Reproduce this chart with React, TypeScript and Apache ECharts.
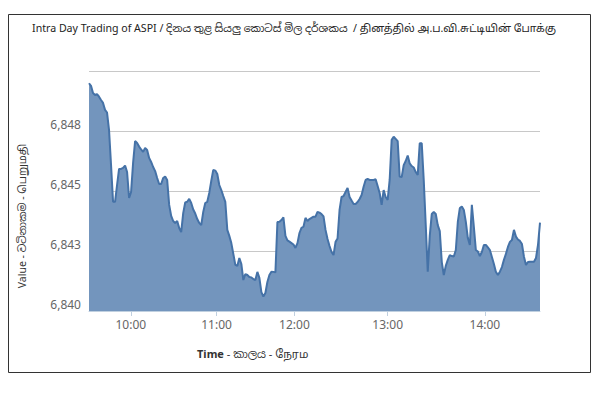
import React, { useEffect, useRef } from "react";
import * as echarts from "echarts";

const titleText =
  "Intra Day Trading of ASPI / දිනය තුළ සියලු කොටස් මිල දර්ශකය  / தினத்தில் அ.ப.வி.சுட்டியின் போக்கு";
const yTitle = "Value - වටිනාකම - பெறுமதி";
const xTitleBold = "Time";
const xTitleRest = " - කාලය - நேரம";

// tick labels of the ordinal time axis and the point index where each falls
const tickLabels = ["10:00", "11:00", "12:00", "13:00", "14:00"];
const tickPos = [20.85, 63.65, 102.5, 149, 197.5];

// ASPI intraday values (equally spaced ordinal points)
const part1 = [
  6849.49, 6849.38, 6849.08, 6849.0, 6849.04, 6848.93, 6848.79, 6848.67, 6848.38, 6848.27,
  6847.54, 6846.08, 6844.55, 6844.55, 6845.25, 6845.92, 6845.92, 6845.96, 6846.06, 6845.79,
  6844.71, 6844.96, 6846.17, 6847.08, 6847.0, 6846.85, 6846.73, 6846.63, 6846.79, 6846.71,
  6846.38, 6846.21, 6846.0, 6845.83, 6845.54, 6845.29, 6845.29, 6845.54, 6845.6, 6845.46,
  6844.42, 6843.96, 6843.75, 6843.67, 6843.75, 6843.46, 6843.29, 6844.08, 6844.52, 6844.55,
  6844.67, 6844.5, 6844.23, 6844.06, 6843.83, 6843.67, 6843.58, 6844.13, 6844.5, 6844.55,
];
const part2 = [
  6844.92, 6845.42, 6845.88, 6845.85, 6845.71, 6845.25, 6845.04, 6844.79, 6844.55, 6843.38,
  6843.13, 6842.83, 6842.38, 6841.92, 6841.88, 6842.21, 6841.96, 6841.29, 6841.54, 6841.5,
  6841.42, 6841.4, 6841.33, 6841.29, 6841.63, 6841.38, 6840.79, 6840.6, 6840.75, 6841.21,
  6841.5, 6841.64, 6841.63, 6841.61, 6843.71, 6843.72, 6843.79, 6843.9, 6843.13, 6842.94,
  6842.89, 6842.83, 6842.77, 6842.63, 6842.83, 6843.25, 6843.46, 6843.51, 6843.88, 6843.75,
  6843.83, 6843.88, 6843.93, 6843.93, 6844.13, 6844.1, 6844.04, 6843.94, 6843.38, 6843.0,
];
const part3 = [
  6842.71, 6842.46, 6842.33, 6842.88, 6843.02, 6844.21, 6844.75, 6844.79, 6844.96, 6845.13,
  6844.75, 6844.6, 6844.46, 6844.46, 6844.54, 6844.67, 6844.83, 6845.18, 6845.46, 6845.5,
  6845.46, 6845.46, 6845.46, 6845.49, 6845.21, 6844.92, 6844.42, 6845.04, 6844.75, 6844.63,
  6845.46, 6847.13, 6847.26, 6847.17, 6847.08, 6845.6, 6845.58, 6846.08, 6846.25, 6846.48,
  6846.15, 6846.04, 6845.98, 6845.79, 6845.67, 6846.99, 6846.99, 6845.46, 6843.58, 6841.64,
  6843.13, 6844.04, 6844.13, 6844.04, 6843.58, 6843.33, 6842.04, 6841.5, 6841.88, 6842.13,
];
const part4 = [
  6842.33, 6842.29, 6842.27, 6842.54, 6843.71, 6844.29, 6844.35, 6844.21, 6843.71, 6843.04,
  6842.75, 6844.42, 6843.51, 6842.54, 6842.48, 6842.29, 6842.46, 6842.75, 6842.75, 6842.65,
  6842.54, 6842.25, 6841.96, 6841.63, 6841.5, 6841.64, 6841.83, 6842.13, 6842.38, 6842.67,
  6842.88, 6842.96, 6843.38, 6843.1, 6842.98, 6842.92, 6842.79, 6842.26, 6841.92, 6842.04,
  6842.05, 6842.05, 6842.05, 6842.21, 6842.75, 6843.68,
];
const values = [...part1, ...part2, ...part3, ...part4];

const FONT = "'Noto Sans', 'Noto Sans Sinhala', 'Noto Sans Tamil', 'DejaVu Sans', sans-serif";

export default function App() {
  const ref = useRef<HTMLDivElement>(null);
  useEffect(() => {
    if (!ref.current) return;
    const chart = echarts.init(ref.current, null, { renderer: "svg" });
    chart.setOption({
      animation: false,
      backgroundColor: "#ffffff",
      grid: { left: 89, right: 60, top: 71, bottom: 82 },
      xAxis: {
        type: "value",
        min: 0,
        max: values.length - 1,
        splitLine: { show: false },
        axisLine: { show: true, lineStyle: { color: "#C0D0E0" } },
        axisTick: {
          show: true,
          customValues: tickPos,
          length: 5,
          lineStyle: { color: "#C0D0E0" },
        },
        axisLabel: {
          customValues: tickPos,
          color: "#666666",
          fontSize: 12,
          fontFamily: FONT,
          margin: 7,
          formatter: (v: number) => {
            const k = tickPos.indexOf(v);
            return k >= 0 ? tickLabels[k] : "";
          },
        },
      },
      yAxis: {
        type: "value",
        min: 6840,
        max: 6850,
        interval: 2.5,
        axisLine: { show: false },
        axisTick: { show: false },
        splitLine: { show: true, lineStyle: { color: "#C8C8C8", width: 1 } },
        axisLabel: {
          color: "#666666",
          fontSize: 12,
          fontFamily: FONT,
          margin: 8,
          verticalAlign: "bottom",
          padding: [0, 0, 1, 0],
          showMaxLabel: false,
          formatter: (v: number) =>
            v >= 6850 ? "" : Math.round(v).toLocaleString("en-US"),
        },
      },
      series: [
        {
          type: "line",
          data: values.map((v, i) => [i, v]),
          showSymbol: false,
          symbol: "none",
          lineStyle: { color: "#4572A7", width: 2 },
          areaStyle: { color: "rgb(115,149,189)", opacity: 1, origin: "start" },
          itemStyle: { color: "#4572A7" },
        },
      ],
      graphic: [
        {
          type: "rect",
          shape: { x: 8.5, y: 14.5, width: 582, height: 358 },
          style: { fill: "none", stroke: "#333333", lineWidth: 1 },
          silent: true,
        },
        {
          type: "text",
          x: 294,
          y: 28,
          style: {
            text: titleText,
            fill: "#222222",
            fontSize: 10.6,
            fontFamily: FONT,
            align: "center",
            verticalAlign: "middle",
          },
        },
        {
          type: "text",
          x: 22,
          y: 216,
          rotation: Math.PI / 2,
          style: {
            text: yTitle,
            fill: "#333333",
            fontSize: 10.5,
            fontFamily: FONT,
            align: "center",
            verticalAlign: "middle",
          },
        },
        {
          type: "text",
          x: 197,
          y: 353,
          style: {
            text: `{b|${xTitleBold}}{n|${xTitleRest}}`,
            rich: {
              b: { fontSize: 11, fontWeight: "bold", fill: "#333333", fontFamily: FONT },
              n: { fontSize: 11, fill: "#333333", fontFamily: FONT },
            },
            align: "left",
            verticalAlign: "middle",
          },
        },
      ],
    });
    return () => chart.dispose();
  }, []);
  return (
    <div
      ref={ref}
      style={{ position: "fixed", left: 0, top: 0, width: 600, height: 393 }}
    />
  );
}
